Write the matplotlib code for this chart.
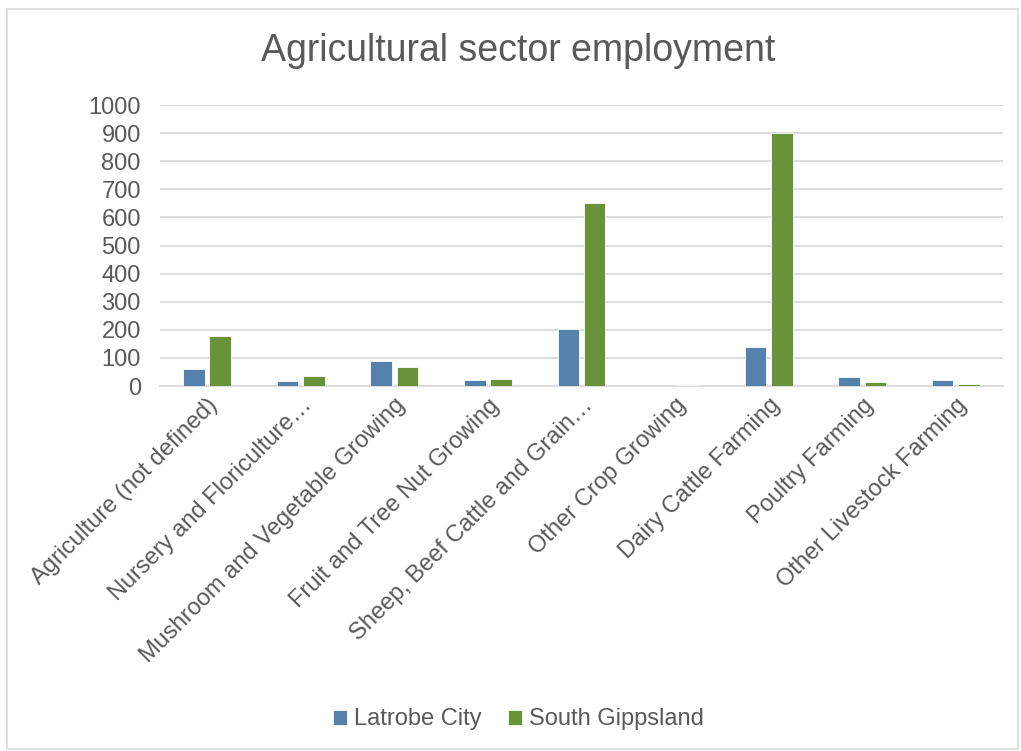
import matplotlib
matplotlib.use("Agg")
import matplotlib.pyplot as plt
import numpy as np
from matplotlib.patches import Rectangle

plt.rcParams["font.family"] = ["Liberation Sans", "DejaVu Sans"]

categories = [
    "Agriculture (not defined)",
    "Nursery and Floriculture…",
    "Mushroom and Vegetable Growing",
    "Fruit and Tree Nut Growing",
    "Sheep, Beef Cattle and Grain…",
    "Other Crop Growing",
    "Dairy Cattle Farming",
    "Poultry Farming",
    "Other Livestock Farming",
]
latrobe = [59, 17, 88, 20, 202, 0, 138, 32, 20]
south_gippsland = [178, 36, 67, 24, 650, 2, 902, 13, 8]
yticks = list(range(0, 1001, 100))

BLUE = "#5482AC"
GREEN = "#6A9238"
TEXT = "#595959"
GRID = "#D9D9D9"

fig = plt.figure(figsize=(10.21, 7.51), dpi=100)
ax = fig.add_axes([0.157, 0.486, 0.825, 0.374])

x = np.arange(len(categories))
w = 0.23
off = 0.14
ax.bar(x - off, latrobe, w, color=BLUE, edgecolor="white", linewidth=0.6,
       label="Latrobe City", zorder=3)
ax.bar(x + off, south_gippsland, w, color=GREEN, edgecolor="white", linewidth=0.6,
       label="South Gippsland", zorder=3)

ax.set_xlim(-0.5, len(categories) - 0.5)
ax.set_ylim(0, 1000)
ax.set_yticks(yticks)
ax.yaxis.grid(True, color=GRID, linewidth=1.3, zorder=0)
ax.set_axisbelow(True)
for s in ["top", "right", "left"]:
    ax.spines[s].set_visible(False)
ax.spines["bottom"].set_color(GRID)
ax.spines["bottom"].set_linewidth(1.3)
ax.tick_params(axis="both", length=0, colors=TEXT, labelsize=17)
ax.tick_params(axis="y", pad=14)
ax.tick_params(axis="x", pad=6)
ax.set_xticks(x)
ax.set_xticklabels(categories, rotation=45, ha="right", rotation_mode="anchor")

fig.text(0.508, 0.932, "Agricultural sector employment", ha="center", va="center",
         fontsize=27, color=TEXT)

fig.legend(loc="center", bbox_to_anchor=(0.508, 0.042), ncol=2, frameon=False,
           fontsize=17, labelcolor=TEXT, handlelength=0.6, handleheight=0.6,
           handletextpad=0.3, columnspacing=1.1)

fig.patches.append(Rectangle((0.007, 0.003), 0.99, 0.985, transform=fig.transFigure,
                             fill=False, edgecolor=GRID, linewidth=1.2))

fig.savefig("out.png", dpi=100)
